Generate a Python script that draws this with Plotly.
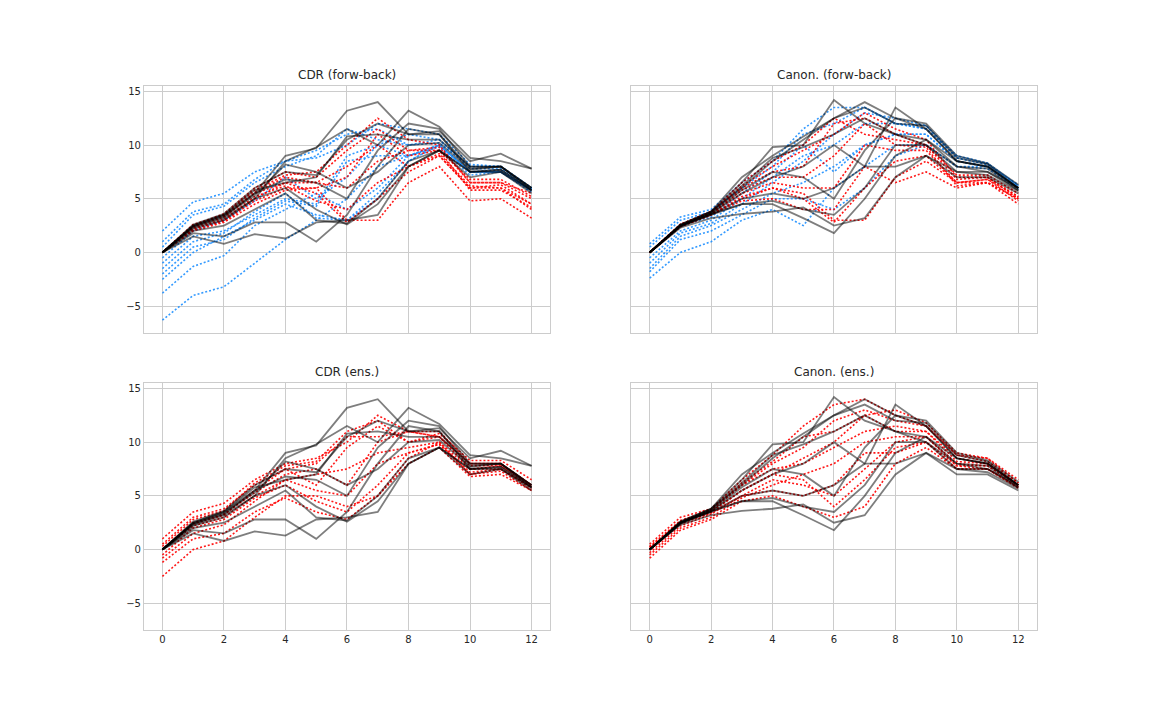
import plotly.graph_objects as go
from plotly.subplots import make_subplots

steps = list(range(13))

# true trajectories (solid, grey/black)
cdr_truth = [
    [0, 2.5, 3.5, 5.8, 6.5, 7, 10.8, 11, 10.5, 10.5, 8, 8, 6],
    [0, 2.4, 3.3, 5.5, 9, 9.7, 13.2, 14, 11, 11.3, 8.5, 9.2, 7.8],
    [0, 2.2, 3, 5, 8.5, 9.8, 11.5, 10, 13.2, 11.7, 8.8, 8.5, 7.8],
    [0, 2, 2.5, 4, 5.5, 3, 2.7, 5, 8.5, 9.5, 7.5, 7.7, 5.8],
    [0, 1.5, 0.8, 1.7, 1.3, 2.8, 3, 3.5, 8, 9.5, 7, 7.5, 5.5],
    [0, 1.8, 1.5, 2.8, 2.8, 1, 3.5, 8, 11.5, 11, 7.8, 8, 5.8],
    [0, 2.6, 3.6, 6, 7.5, 7.2, 10.5, 12, 11, 11, 7.5, 7.5, 5.7],
    [0, 2.3, 3.2, 5, 6, 4, 2.6, 4.5, 8, 9.5, 7.5, 7.7, 5.8],
    [0, 2.5, 3.5, 5.5, 6.8, 6.5, 5, 9.5, 12, 11.5, 8, 8, 6],
    [0, 2.4, 3.4, 5.3, 8.2, 7.5, 6, 7.5, 10, 10.2, 7.7, 8, 6],
]
canon_truth = [
    [0, 2.5, 3.8, 6.5, 9.8, 10, 14.2, 12, 11, 10.5, 8.5, 8, 6],
    [0, 2.6, 3.8, 6, 8.5, 10.5, 12.5, 14, 12.5, 12, 9, 8.3, 6.3],
    [0, 2.4, 3.5, 4.5, 4.5, 3.2, 1.8, 5, 9, 10.5, 8, 7.5, 5.8],
    [0, 2.3, 3.2, 3.6, 3.8, 4.2, 2.5, 3.2, 7, 9, 7.5, 7.5, 6],
    [0, 2.5, 3.6, 5.5, 7, 8, 10, 8, 13.5, 11.5, 8.5, 8, 6],
    [0, 2.5, 3.7, 6.2, 8.8, 9.8, 11, 12.5, 11, 10, 7.5, 7.2, 5.7],
    [0, 2.5, 3.5, 5, 5.5, 5, 6, 8, 8, 9, 7, 7, 5.5],
    [0, 2.4, 3.6, 5.8, 7.5, 7, 5, 9.5, 12.5, 11.5, 8.5, 8, 6],
    [0, 2.5, 3.6, 4.5, 4.8, 4, 3.5, 6, 10, 10, 8, 7.8, 5.8],
    [0, 2.6, 3.8, 7, 9, 10.8, 12.5, 13.5, 12, 11.8, 8.8, 8.2, 6],
]

# CDR forward-backward
cdr_fb_blue = [
    [-6.3, -4, -3.2, -1, 1.2, 3, 5, 8, 9, 10, 7.5, 7.5, 5.8],
    [-3.8, -1.3, -0.3, 2.5, 4, 5.5, 4, 6, 9, 10, 7.5, 7.5, 5.8],
    [2, 4.7, 5.5, 7.5, 8.5, 9.5, 11, 11.5, 10, 10.5, 8, 8, 6],
    [-2.5, 0, 1.5, 3, 4.5, 3.5, 3, 5, 8.5, 10, 7.5, 7.5, 5.8],
    [-1, 1.5, 2, 3.5, 5, 4.5, 9, 10, 9, 10, 7.5, 7.7, 5.8],
    [0.5, 3.5, 4.3, 6.5, 8, 9, 11.5, 10.5, 10, 10.2, 8, 8, 6],
    [-1.5, 1, 1.8, 3.8, 5.5, 3.2, 3, 5.5, 8.5, 10, 7.5, 7.5, 5.8],
    [-0.5, 2, 3, 4.8, 7, 5, 7, 10, 11, 10.5, 7.8, 7.8, 5.9],
    [-2, 0.5, 1.2, 3.2, 4.8, 4.3, 8.5, 9, 9, 9.8, 7.2, 7.5, 5.6],
    [1, 3.8, 4.5, 6.8, 8.5, 8.8, 10, 12, 11.5, 11, 8.2, 8, 6],
]
cdr_fb_red = [
    [0, 2, 2.8, 4.5, 5.8, 6, 3, 3, 6.5, 8, 4.8, 5, 3.2],
    [0, 2.4, 3.3, 5.5, 6.5, 5.5, 2.8, 5, 7.5, 9, 6, 6, 4.5],
    [0, 2.6, 3.5, 5.8, 7.2, 7.5, 10, 12.5, 10.5, 10, 6.5, 6.5, 5],
    [0, 2.2, 3, 5, 6.5, 6.5, 8, 10, 8, 9, 6, 6.3, 4.5],
    [0, 2.5, 3.6, 6, 7.5, 7, 9.5, 11.5, 9.5, 9.5, 6.8, 6.8, 5.2],
    [0, 2.3, 3.1, 5.2, 6.2, 4.8, 4, 6.5, 8, 9.2, 6.2, 6, 4],
    [0, 2.5, 3.4, 5.6, 7, 6.5, 6, 8.5, 9.5, 9.8, 6.5, 6.5, 5.5],
    [0, 2.1, 2.9, 4.8, 6, 6, 7, 11, 9, 9.5, 5.8, 5.8, 4.2],
]

# Canonical forward-backward
canon_fb_blue = [
    [-2.4, 0, 1, 3, 4, 2.5, 6, 8, 10, 10, 8, 8, 6],
    [-1.5, 1.5, 2.5, 4, 5.5, 6.5, 8, 10, 11, 11, 8.5, 8, 6],
    [0.8, 3.3, 4, 6.5, 8.5, 11.5, 13.5, 13.5, 12, 11.5, 9, 8.3, 6.2],
    [-0.5, 2, 3, 5, 7, 9, 10, 12, 12, 11.5, 8.8, 8.2, 6.2],
    [-1, 1.8, 2.7, 4.5, 6.5, 8.5, 11, 13, 12.5, 11.8, 8.8, 8.2, 6.3],
    [0, 2.5, 3.3, 5.5, 7.5, 10, 7.5, 10, 11, 11, 8.5, 8, 6],
    [-1.8, 1.2, 2, 3.5, 5, 5, 4, 6, 9, 10, 8, 7.8, 5.9],
    [0.5, 3, 3.8, 6, 8, 11, 12, 13.5, 12, 11.8, 9, 8.3, 6.2],
]
canon_fb_red = [
    [0, 2.5, 3.6, 5, 6, 5.5, 3, 3, 7, 8.5, 6.5, 6.5, 5],
    [0, 2.6, 3.8, 6.2, 8, 9.5, 11, 13, 11.5, 10.5, 7, 7, 5.2],
    [0, 2.4, 3.5, 4.8, 5, 4, 4, 8, 6.5, 7.5, 6, 6.5, 4.5],
    [0, 2.5, 3.7, 6, 7.5, 8, 12, 12.5, 11, 10, 6.8, 7, 5],
    [0, 2.6, 3.7, 5.5, 6.5, 6, 6, 10, 9.5, 9.5, 6.5, 6.8, 4.8],
    [0, 2.5, 3.6, 5.8, 7, 7, 9, 12, 10, 9.8, 6.2, 6.5, 5],
    [0, 2.4, 3.5, 5.2, 6, 5, 2.8, 6, 8.5, 9, 6.5, 6.8, 5.2],
    [0, 2.6, 3.8, 6.5, 8.5, 10, 12.5, 11, 10.5, 10, 7.2, 7.2, 5.5],
]

# ensembles
cdr_ens_red = [
    [-2.5, 0, 0.8, 3, 5, 5, 4, 5, 8.5, 10, 7, 7.5, 5.8],
    [-1.2, 1, 1.5, 3.5, 4.8, 3.5, 2.8, 5, 8, 9.5, 6.8, 7, 5.5],
    [1, 3.5, 4.3, 6.5, 8, 8.5, 10, 12.5, 11, 10.5, 8, 8, 6],
    [0, 2.5, 3.3, 5.3, 7, 7.5, 6, 10, 11, 10.5, 7.5, 7.8, 6],
    [0.5, 3, 3.8, 6, 7.5, 6, 9.5, 11.5, 10, 10.8, 8.3, 8.3, 6.5],
    [-0.5, 2, 2.8, 4.8, 6, 4.5, 3.5, 6, 9, 9.8, 7, 7.3, 5.5],
    [0, 2.4, 3.2, 5.5, 7.5, 8, 10.5, 10.5, 11, 11, 8, 8, 6],
    [-0.8, 1.5, 2.3, 4.5, 6.5, 7, 7.5, 9, 9.5, 10, 7.5, 7.5, 5.8],
    [0.3, 2.8, 3.6, 6.2, 7.8, 8.2, 11, 12, 10, 10.5, 7.8, 7.8, 5.9],
    [0, 2.2, 3, 5, 6.5, 5.5, 5, 8, 9, 9.8, 7.2, 7.5, 5.7],
]
canon_ens_red = [
    [-0.8, 1.8, 2.8, 4.5, 5, 4, 3, 4, 8, 9.5, 7.5, 7.5, 5.8],
    [0.5, 3, 3.8, 6.5, 8.8, 11.5, 13.5, 14, 12.5, 11.5, 8.8, 8.5, 6.2],
    [0, 2.5, 3.5, 5.5, 7, 8.5, 10, 12.5, 11, 11, 8.5, 8, 6],
    [-0.3, 2.2, 3.3, 5, 6.5, 6, 5, 7.5, 10, 10.5, 8, 7.8, 6],
    [0.2, 2.6, 3.6, 6, 8, 9.5, 12, 13, 12, 11.5, 8.8, 8.2, 6.2],
    [0, 2.4, 3.4, 5, 5.5, 5, 6, 9, 9, 10, 7.5, 7.5, 5.7],
    [0.3, 2.7, 3.7, 6.2, 8.2, 10.5, 11, 12.5, 13, 11.8, 9, 8.5, 6.5],
    [-0.5, 2, 3, 4.8, 6, 7, 8, 10, 10.5, 10.5, 7.8, 7.8, 6],
    [0, 2.5, 3.5, 5.5, 7, 6.5, 4, 6.5, 9.5, 10, 7.8, 7.5, 5.8],
    [0.2, 2.6, 3.7, 6, 7.5, 8, 9.5, 11, 11.5, 11, 8.2, 8, 6],
]

titles = ["CDR (forw-back)", "Canon. (forw-back)", "CDR (ens.)", "Canon. (ens.)"]
panels = [
    (1, 1, [("dodgerblue", cdr_fb_blue), ("red", cdr_fb_red)], cdr_truth),
    (1, 2, [("dodgerblue", canon_fb_blue), ("red", canon_fb_red)], canon_truth),
    (2, 1, [("red", cdr_ens_red)], cdr_truth),
    (2, 2, [("red", canon_ens_red)], canon_truth),
]

fig = make_subplots(rows=2, cols=2, subplot_titles=titles, shared_xaxes=True, shared_yaxes=True,
                    horizontal_spacing=0.07, vertical_spacing=0.07)

for row, col, dotted, truth in panels:
    for color, lines in dotted:
        for ys in lines:
            fig.add_trace(go.Scatter(x=steps, y=ys, mode='lines', opacity=0.9,
                                     line=dict(color=color, width=1.6, dash='2px,2px')), row=row, col=col)
    for ys in truth:
        fig.add_trace(go.Scatter(x=steps, y=ys, mode='lines', opacity=0.5,
                                 line=dict(color='black', width=1.8)), row=row, col=col)

fig.update_xaxes(range=[-0.6, 12.6], tickvals=[0, 2, 4, 6, 8, 10, 12], showgrid=True, gridcolor='#cccccc',
                 zeroline=False, showline=True, linecolor='#cccccc', mirror=True, ticks='')
fig.update_yaxes(range=[-7.5, 15.5], tickvals=[-5, 0, 5, 10, 15], showgrid=True, gridcolor='#cccccc',
                 zeroline=False, showline=True, linecolor='#cccccc', mirror=True, ticks='',
                 ticktext=['\u22125', '0', '5', '10', '15'])
fig.update_xaxes(domain=[0.118, 0.4705], col=1)
fig.update_xaxes(domain=[0.541, 0.893], col=2)
fig.update_yaxes(domain=[0.5486, 0.8917], row=1)
fig.update_yaxes(domain=[0.136, 0.479], row=2)

# move subplot titles above the new domains
pos = [(0.294, 0.8917), (0.717, 0.8917), (0.294, 0.479), (0.717, 0.479)]
for ann, (x, y) in zip(fig.layout.annotations, pos):
    ann.update(x=x, y=y, yshift=2, font=dict(size=12, color='#262626'))

fig.update_layout(width=1152, height=720, showlegend=False, plot_bgcolor='white', paper_bgcolor='white',
                  margin=dict(l=0, r=0, t=0, b=0),
                  font=dict(family='DejaVu Sans', size=10, color='#262626'))
fig.write_html("out.html")
